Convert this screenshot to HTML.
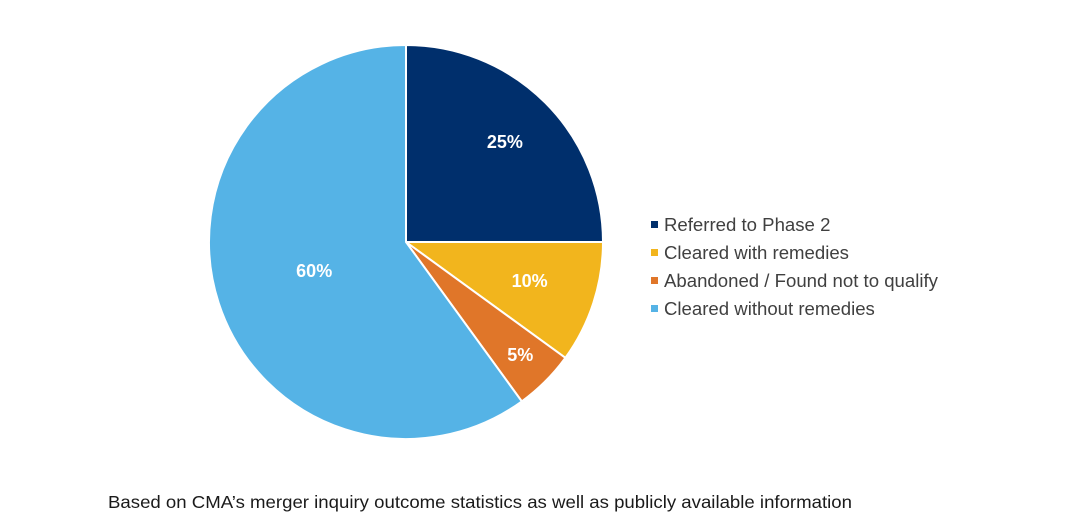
<!DOCTYPE html>
<html><head><meta charset="utf-8"><style>
body{margin:0;background:#fff;width:1065px;height:524px;overflow:hidden;font-family:"Liberation Sans",sans-serif}
</style></head><body>
<svg width="1065" height="524">
<g id="slices"></g>
<g id="labels"></g>
<g id="legend"></g>
<text x="108" y="508" font-size="17.5" textLength="744" lengthAdjust="spacingAndGlyphs" fill="#1a1a1a">Based on CMA’s merger inquiry outcome statistics as well as publicly available information</text>
</svg>
<script>
const categories=["Referred to Phase 2","Cleared with remedies","Abandoned / Found not to qualify","Cleared without remedies"];
const values=[25,10,5,60];
const labels=["25%","10%","5%","60%"];
const colors=["#002f6c","#f2b51d","#e07629","#55b3e6"];
const labelDist=[0.71,0.66,0.82,0.49];
const cx=406,cy=242,r=197;
const ns="http://www.w3.org/2000/svg";
const total=values.reduce((a,b)=>a+b,0);
const sG=document.getElementById('slices'),lG=document.getElementById('labels'),gG=document.getElementById('legend');
let acc=0;
function pt(a,d){return [cx+Math.sin(a)*d,cy-Math.cos(a)*d];}
values.forEach((v,i)=>{
 const a0=acc/total*2*Math.PI;acc+=v;const a1=acc/total*2*Math.PI;
 const p0=pt(a0,r),p1=pt(a1,r);
 const p=document.createElementNS(ns,'path');
 p.setAttribute('d',`M${cx},${cy}L${p0[0]},${p0[1]}A${r},${r} 0 ${a1-a0>Math.PI?1:0} 1 ${p1[0]},${p1[1]}Z`);
 p.setAttribute('fill',colors[i]);p.setAttribute('stroke','#fff');p.setAttribute('stroke-width','2');
 
 
 sG.appendChild(p);
 const m=(a0+a1)/2,lp=pt(m,r*labelDist[i]);
 const t=document.createElementNS(ns,'text');
 t.setAttribute('x',lp[0]);t.setAttribute('y',lp[1]+5);t.setAttribute('text-anchor','middle');
 t.setAttribute('font-size','18');t.setAttribute('font-weight','bold');t.setAttribute('fill','#fff');
 t.textContent=labels[i];
 
 
 lG.appendChild(t);
 const y=225+i*28;
 const sq=document.createElementNS(ns,'rect');
 sq.setAttribute('x',651);sq.setAttribute('y',y-4);sq.setAttribute('width',7);sq.setAttribute('height',7);sq.setAttribute('fill',colors[i]);
 
 
 gG.appendChild(sq);
 const lt=document.createElementNS(ns,'text');
 lt.setAttribute('x',664);lt.setAttribute('y',y+6);lt.setAttribute('font-size','18.6');lt.setAttribute('fill','#404040');
 lt.textContent=categories[i];
 
 
 gG.appendChild(lt);
});
</script>
</body></html>
